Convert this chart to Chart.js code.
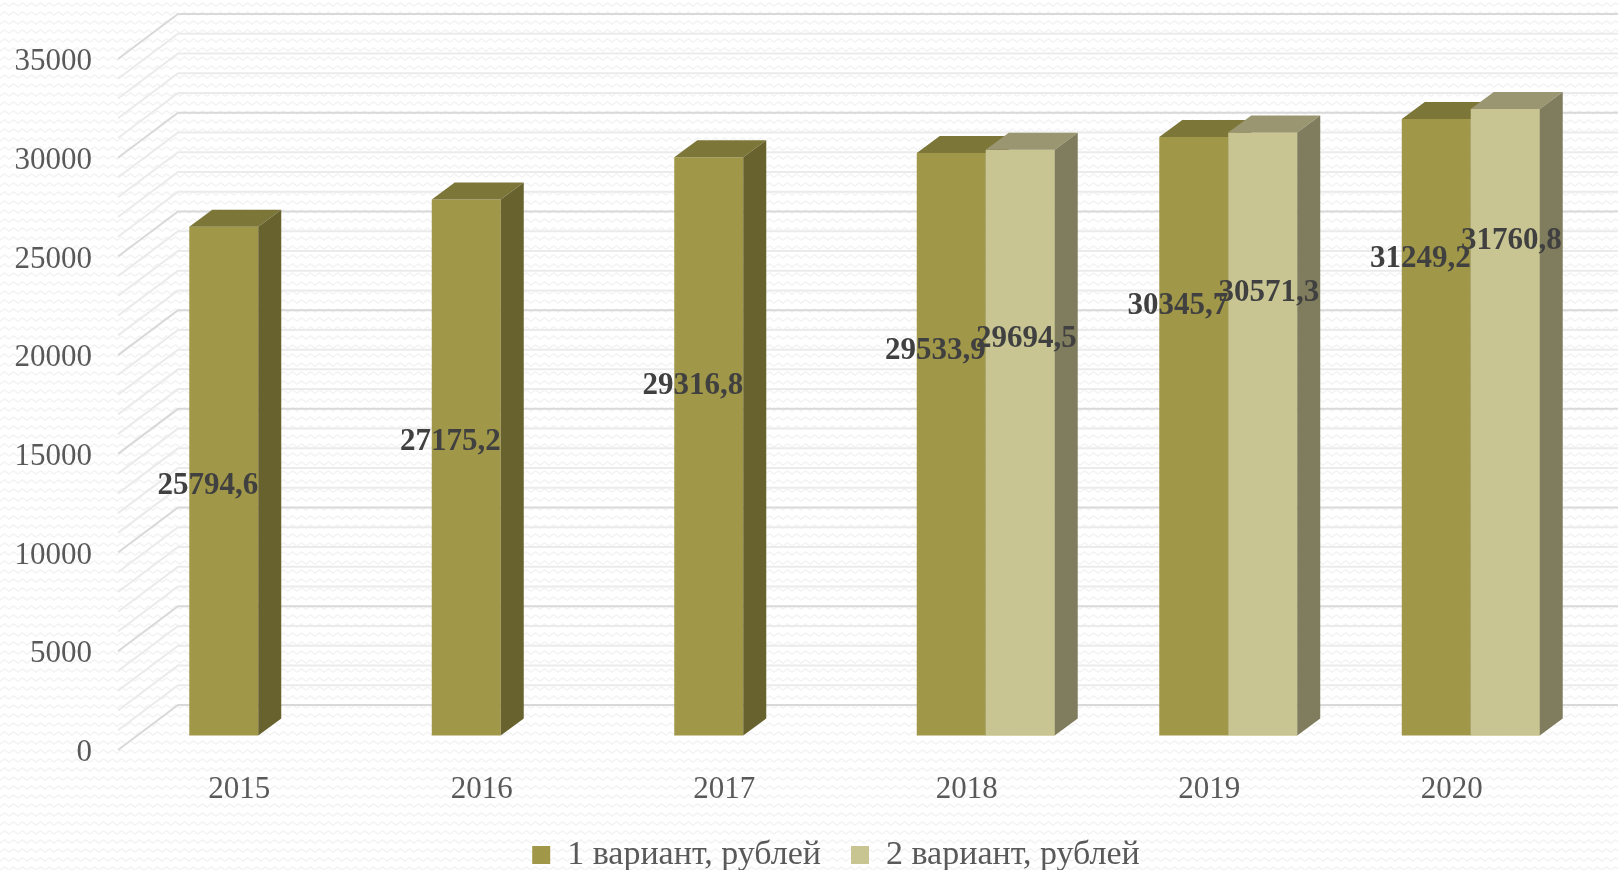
<!DOCTYPE html>
<html lang="ru">
<head>
<meta charset="utf-8">
<title>Варианты, рублей</title>
<script src="https://cdn.jsdelivr.net/npm/chart.js@4.4.1/dist/chart.umd.min.js"></script>
<style>
    html, body { margin: 0; padding: 0; background: #ffffff; }
    #contenedor { position: relative; width: 1618px; height: 870px; }
</style>
</head>
<body>
<div id="contenedor"><canvas id="grafico" width="1618" height="870"></canvas></div>
<script>
// Datos del gráfico
const anios = ['2015', '2016', '2017', '2018', '2019', '2020'];
const variante1 = [25794.6, 27175.2, 29316.8, 29533.9, 30345.7, 31249.2];
const variante2 = [null, null, null, 29694.5, 30571.3, 31760.8];
const nombresSeries = ['1 вариант, рублей', '2 вариант, рублей'];
const ejeMin = 0;
const ejeMax = 35000;
const pasoMayor = 5000;
const pasoMenor = 1000;

// Colores de las caras (frente, lado, arriba)
const caras = [
    { frente: '#a09748', lado: '#67622e', arriba: '#7c7739' },
    { frente: '#c8c592', lado: '#807d5e', arriba: '#9b9672' }
];

// Profundidad de las barras y del "suelo"
const barraDX = 23, barraDY = 17;
const sueloDX = -19, sueloDY = 14;   // borde delantero respecto al plano de las barras
const paredDX = 41, paredDY = -31;   // pared del fondo respecto al plano de las barras

const fuenteSerif = '"Liberation Serif", "Times New Roman", serif';

function crearPatron(ctx) {
    const tile = document.createElement('canvas');
    tile.width = 9; tile.height = 9;
    const t = tile.getContext('2d');
    t.fillStyle = '#ffffff';
    t.fillRect(0, 0, 9, 9);
    t.strokeStyle = '#f3f3f3';
    t.lineWidth = 1.5;
    t.beginPath();
    t.moveTo(-0.5, 6.5);
    t.lineTo(4.5, 3);
    t.lineTo(9.5, 6.5);
    t.stroke();
    return ctx.createPattern(tile, 'repeat');
}

// Fondo con textura y rejilla en 3D
const fondo3d = {
    id: 'fondo3d',
    beforeDraw(chart) {
        const ctx = chart.ctx;
        const escalaY = chart.scales.y;
        const area = chart.chartArea;
        ctx.save();
        ctx.fillStyle = crearPatron(ctx);
        ctx.fillRect(0, 0, chart.width, chart.height);

        // primero las líneas menores, luego las mayores
        [false, true].forEach(mayor => {
            for (let v = ejeMin; v <= ejeMax; v += pasoMenor) {
                const esMayor = v % pasoMayor === 0;
                if (esMayor !== mayor) continue;
                const yb = escalaY.getPixelForValue(v);
                ctx.strokeStyle = esMayor ? '#d9d9d9' : '#ebebeb';
                ctx.lineWidth = 2;
                ctx.beginPath();
                ctx.moveTo(area.left + sueloDX, yb + sueloDY);
                ctx.lineTo(area.left + paredDX, yb + paredDY);
                ctx.lineTo(chart.width, yb + paredDY);
                ctx.stroke();
            }
        });
        ctx.restore();
    }
};

function dibujarCaras(ctx, barra, color) {
    const { x, y, base, width } = barra.getProps(['x', 'y', 'base', 'width'], true);
    const izq = x - width / 2;
    const der = x + width / 2;

    ctx.fillStyle = color.arriba;
    ctx.beginPath();
    ctx.moveTo(izq, y);
    ctx.lineTo(izq + barraDX, y - barraDY);
    ctx.lineTo(der + barraDX, y - barraDY);
    ctx.lineTo(der, y);
    ctx.closePath();
    ctx.fill();

    ctx.fillStyle = color.lado;
    ctx.beginPath();
    ctx.moveTo(der, y);
    ctx.lineTo(der + barraDX, y - barraDY);
    ctx.lineTo(der + barraDX, base - barraDY);
    ctx.lineTo(der, base);
    ctx.closePath();
    ctx.fill();
}

// Caras superior y lateral; la serie 2 se vuelve a pintar encima
const cubos3d = {
    id: 'cubos3d',
    afterDatasetsDraw(chart) {
        const ctx = chart.ctx;
        ctx.save();
        chart.data.datasets.forEach((ds, d) => {
            const meta = chart.getDatasetMeta(d);
            meta.data.forEach((barra, i) => {
                if (ds.data[i] == null) return;
                if (d > 0) barra.draw(ctx);
                dibujarCaras(ctx, barra, caras[d]);
            });
        });
        ctx.restore();

        // Etiquetas de valores, como en el original (suben hacia la derecha)
        const area = chart.chartArea;
        ctx.save();
        ctx.font = 'bold 31px ' + fuenteSerif;
        ctx.fillStyle = '#404040';
        ctx.textAlign = 'right';
        ctx.textBaseline = 'middle';
        chart.data.datasets.forEach((ds, d) => {
            const meta = chart.getDatasetMeta(d);
            meta.data.forEach((barra, i) => {
                const v = ds.data[i];
                if (v == null) return;
                const { x, y, base, width } = barra.getProps(['x', 'y', 'base', 'width'], true);
                const frac = (x - area.left) / area.width;
                const t = 0.53 - 0.34 * frac;
                const yTexto = y + (base - y) * t;
                const xTexto = x + width / 2 + (d === 1 ? barraDX - 1 : 0);
                ctx.fillText(v.toFixed(1).replace('.', ','), xTexto, yTexto);
            });
        });
        ctx.restore();
    }
};

// Mover la leyenda un poco a la derecha
const leyendaCentro = {
    id: 'leyendaCentro',
    afterLayout(chart) {
        chart.legend.left += 40;
        chart.legend.right += 40;
    }
};

const ctx = document.getElementById('grafico').getContext('2d');
new Chart(ctx, {
    type: 'bar',
    data: {
        labels: anios,
        datasets: [
            {
                label: nombresSeries[0],
                data: variante1,
                backgroundColor: caras[0].frente,
                borderWidth: 0
            },
            {
                label: nombresSeries[1],
                data: variante2,
                backgroundColor: caras[1].frente,
                borderWidth: 0
            }
        ]
    },
    options: {
        responsive: false,
        animation: false,
        events: [],
        layout: { padding: { top: 45, right: 26, left: 0, bottom: -12 } },
        datasets: {
            bar: { categoryPercentage: 0.569, barPercentage: 1 }
        },
        plugins: {
            tooltip: { enabled: false },
            legend: {
                position: 'bottom',
                labels: {
                    boxWidth: 18,
                    boxHeight: 18,
                    padding: 30,
                    color: '#595959',
                    font: { family: fuenteSerif, size: 34 }
                }
            }
        },
        scales: {
            x: {
                grid: { display: false },
                border: { display: false },
                ticks: {
                    color: '#595959',
                    font: { family: fuenteSerif, size: 31, lineHeight: 1 },
                    padding: 30,
                    labelOffset: -19,
                    maxRotation: 0
                },
                afterFit: (escala) => { escala.height = 72; }
            },
            y: {
                min: ejeMin,
                max: ejeMax,
                grid: {
                    display: true,
                    drawOnChartArea: false,
                    drawTicks: true,
                    tickLength: 19,
                    color: 'rgba(0,0,0,0)'
                },
                border: { display: false },
                ticks: {
                    stepSize: pasoMayor,
                    color: '#595959',
                    font: { family: fuenteSerif, size: 31, lineHeight: 1 },
                    padding: 26,
                    labelOffset: 17,
                    callback: (valor) => String(valor)
                },
                afterFit: (escala) => { escala.width = 137; }
            }
        }
    },
    plugins: [fondo3d, cubos3d, leyendaCentro]
});
</script>
</body>
</html>
